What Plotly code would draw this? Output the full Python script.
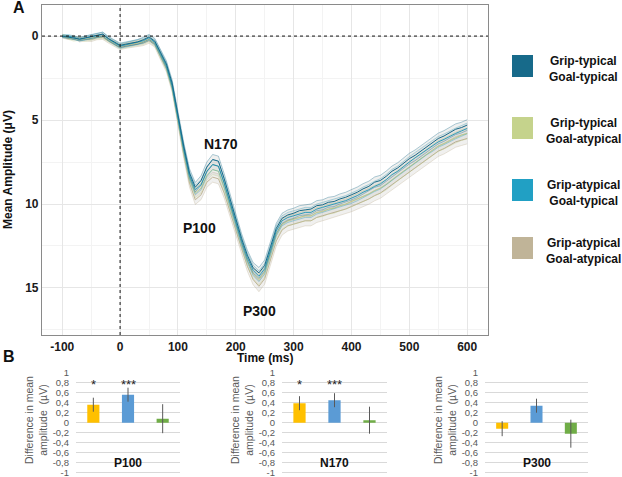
import plotly.graph_objects as go

# ---------------------------------------------------------
# Panel A data: grand-average ERP (µV), sampled every 10 ms
# ---------------------------------------------------------
time_ms = list(range(-100, 601, 10))

gt_goalt = [0.00, 0.05, 0.12, 0.18, 0.10, 0.02, -0.08, -0.12, 0.15, 0.35,
            0.55, 0.48, 0.40, 0.35, 0.22, 0.05, 0.30, 0.95, 1.65, 2.80,
            4.75, 6.55, 8.15, 9.00, 8.60, 7.80, 7.35, 7.45, 8.50, 9.70,
            10.95, 12.05, 13.05, 13.80, 14.10, 13.65, 12.55, 11.45, 10.85, 10.65,
            10.55, 10.40, 10.35, 10.30, 10.10, 10.05, 9.90, 9.85, 9.70, 9.60,
            9.45, 9.30, 9.10, 8.95, 8.70, 8.60, 8.35, 8.05, 7.85, 7.55,
            7.30, 7.10, 6.85, 6.55, 6.35, 6.10, 5.95, 5.75, 5.55, 5.45, 5.30]

gt_goala = [-0.05, 0.10, 0.20, 0.15, 0.20, 0.12, 0.05, 0.02, 0.25, 0.42,
            0.62, 0.55, 0.50, 0.42, 0.35, 0.20, 0.45, 1.15, 1.85, 3.05,
            5.05, 6.85, 8.45, 9.35, 9.05, 8.30, 7.95, 8.05, 9.00, 10.10,
            11.25, 12.35, 13.40, 14.15, 14.50, 14.05, 12.95, 11.80, 11.20, 11.00,
            10.90, 10.80, 10.70, 10.70, 10.50, 10.45, 10.30, 10.25, 10.10, 10.00,
            9.85, 9.70, 9.55, 9.40, 9.20, 9.05, 8.85, 8.55, 8.30, 8.05,
            7.80, 7.55, 7.30, 7.05, 6.80, 6.55, 6.40, 6.20, 6.05, 5.90, 5.80]

ga_goalt = [0.02, 0.00, 0.08, 0.20, 0.12, 0.05, -0.05, -0.10, 0.18, 0.40,
            0.60, 0.52, 0.45, 0.38, 0.28, 0.10, 0.38, 1.05, 1.75, 2.95,
            4.95, 6.70, 8.30, 9.15, 8.85, 8.05, 7.65, 7.75, 8.75, 9.90,
            11.10, 12.20, 13.20, 13.95, 14.30, 13.85, 12.75, 11.60, 11.00, 10.80,
            10.70, 10.60, 10.50, 10.50, 10.30, 10.20, 10.10, 10.00, 9.90, 9.80,
            9.65, 9.50, 9.30, 9.15, 8.95, 8.80, 8.55, 8.25, 8.05, 7.75,
            7.50, 7.25, 7.00, 6.75, 6.55, 6.30, 6.15, 5.95, 5.80, 5.65, 5.50]

ga_goala = [0.03, 0.12, 0.05, 0.25, 0.18, 0.22, 0.10, 0.08, 0.30, 0.50,
            0.68, 0.60, 0.55, 0.48, 0.42, 0.28, 0.50, 1.25, 1.95, 3.15,
            5.20, 7.05, 8.75, 9.75, 9.45, 8.70, 8.40, 8.50, 9.35, 10.40,
            11.55, 12.65, 13.70, 14.50, 14.90, 14.45, 13.35, 12.20, 11.55, 11.30,
            11.20, 11.10, 11.00, 11.00, 10.80, 10.70, 10.60, 10.50, 10.40, 10.30,
            10.15, 10.00, 9.85, 9.70, 9.50, 9.35, 9.10, 8.85, 8.60, 8.35,
            8.10, 7.85, 7.60, 7.35, 7.10, 6.85, 6.70, 6.50, 6.30, 6.20, 6.10]

# standard error used for the ribbons
se = [0.08, 0.09, 0.10, 0.10, 0.11, 0.11, 0.12, 0.12, 0.12, 0.13,
      0.13, 0.13, 0.14, 0.14, 0.15, 0.15, 0.16, 0.17, 0.18, 0.19,
      0.20, 0.22, 0.25, 0.28, 0.29, 0.30, 0.30, 0.30, 0.30, 0.29,
      0.29, 0.29, 0.30, 0.31, 0.32, 0.32, 0.31, 0.30, 0.30, 0.30,
      0.30, 0.30, 0.30, 0.30, 0.30, 0.30, 0.30, 0.30, 0.30, 0.30,
      0.31, 0.31, 0.31, 0.31, 0.31, 0.31, 0.31, 0.31, 0.31, 0.31,
      0.32, 0.32, 0.32, 0.32, 0.32, 0.32, 0.32, 0.32, 0.32, 0.32, 0.32]

conditions = ["Grip-typical<br>Goal-typical", "Grip-typical<br>Goal-atypical",
              "Grip-atypical<br>Goal-typical", "Grip-atypical<br>Goal-atypical"]
cond_colors = ["#176a8a", "#c5d38c", "#21a0c4", "#c0b498"]
cond_rgb = ["23,106,138", "197,211,140", "33,160,196", "192,180,152"]
cond_series = [gt_goalt, gt_goala, ga_goalt, ga_goala]

components = ["N170", "P100", "P300"]
comp_time = [174, 138, 241]
comp_amp = [6.4, 11.4, 16.4]

# ---------------------------------------------------------
# Panel B data: difference in mean amplitude (µV)
# ---------------------------------------------------------
contrasts = ["Grip", "Goal", "Interaction"]
bar_colors = ["#ffc000", "#5b9bd5", "#70ad47"]
windows = ["P100", "N170", "P300"]
diff_p100 = [0.36, 0.56, 0.08]
err_p100 = [0.14, 0.14, 0.29]
diff_n170 = [0.39, 0.45, 0.05]
err_n170 = [0.14, 0.14, 0.27]
diff_p300 = [-0.12, 0.34, -0.22]
err_p300 = [0.15, 0.14, 0.28]
stars_p100 = ["*", "***", ""]
stars_n170 = ["*", "***", ""]
stars_p300 = ["", "", ""]

FONT = "Arial, Liberation Sans, sans-serif"
W, H = 622, 477

fig = go.Figure()

# ERP ribbons + mean lines (draw the bottom condition first)
for i in [3, 1, 2, 0]:
    vals = cond_series[i]
    upper = [v - s for v, s in zip(vals, se)]
    lower = [v + s for v, s in zip(vals, se)]
    edge = dict(color=f"rgba({cond_rgb[i]},0.6)", width=0.6)
    fig.add_trace(go.Scatter(x=time_ms, y=upper, mode="lines", line=edge,
                             showlegend=False, hoverinfo="skip"))
    fig.add_trace(go.Scatter(x=time_ms, y=lower, mode="lines", line=edge,
                             fill="tonexty", fillcolor="rgba(140,140,130,0.13)",
                             showlegend=False, hoverinfo="skip"))
    fig.add_trace(go.Scatter(x=time_ms, y=vals, mode="lines",
                             line=dict(color=cond_colors[i], width=1),
                             name=conditions[i].replace("<br>", " "), showlegend=False))

# bar panels
bar_sets = [(diff_p100, err_p100, stars_p100), (diff_n170, err_n170, stars_n170),
            (diff_p300, err_p300, stars_p300)]
for k, (d, e, st) in enumerate(bar_sets):
    ax = str(k + 2)
    fig.add_trace(go.Bar(x=contrasts, y=d, marker_color=bar_colors, marker_line_width=0,
                         error_y=dict(type="data", array=e, color="#595959",
                                      thickness=1, width=0),
                         xaxis="x" + ax, yaxis="y" + ax, showlegend=False))
    for c, s in zip(contrasts, st):
        if s:
            fig.add_annotation(x=c, y=0.76, xref="x" + ax, yref="y" + ax, text=s,
                               showarrow=False, font=dict(family=FONT, size=13, color="#222"))
    fig.add_annotation(x=contrasts[1], y=-0.8, xref="x" + ax, yref="y" + ax,
                       text="<b>" + windows[k] + "</b>", showarrow=False,
                       font=dict(family=FONT, size=12, color="#111"))

# zero reference lines in panel A
fig.add_vline(x=0, line=dict(color="#111", width=1, dash="3px,3px"))
fig.add_hline(y=0, line=dict(color="#111", width=1, dash="3px,3px"))

# peak labels
for name, t, a in zip(components, comp_time, comp_amp):
    fig.add_annotation(x=t, y=a, text="<b>" + name + "</b>", showarrow=False,
                       font=dict(family=FONT, size=14, color="#111"))

def px_x(p):
    return p / W

def px_y(p):
    return 1 - p / H

def paper_note(x, y, text, size, color="#111", angle=0):
    fig.add_annotation(x=px_x(x), y=px_y(y), xref="paper", yref="paper", text=text,
                       xanchor="center", yanchor="middle", textangle=angle,
                       showarrow=False, align="center",
                       font=dict(family=FONT, size=size, color=color))

tick_font = dict(family=FONT, size=12, color="#1a1a1a")
layout = dict(
    template="none",
    width=W, height=H, margin=dict(l=0, r=0, t=0, b=0, autoexpand=False),
    paper_bgcolor="white", plot_bgcolor="white",
    font=dict(family=FONT), bargap=0.65,
    xaxis=dict(domain=[px_x(42), px_x(488)], range=[-135, 636], automargin=False,
               tickvals=[-100, 0, 100, 200, 300, 400, 500, 600],
               ticktext=["<b>%d</b>" % v for v in [-100, 0, 100, 200, 300, 400, 500, 600]],
               tickfont=tick_font, ticks="", showgrid=True, gridcolor="#e6e6e6",
               minor=dict(dtick=50, tick0=-50, showgrid=True, gridcolor="#f3f3f3"),
               zeroline=False, showline=True, mirror=True, linecolor="#8a8a8a",
               linewidth=1.2, anchor="y"),
    yaxis=dict(domain=[px_y(335), px_y(5)], range=[17.8, -1.85], automargin=False,
               tickvals=[0, 5, 10, 15], ticktext=["<b>0</b>", "<b>5</b>", "<b>10</b>", "<b>15</b>"],
               tickfont=tick_font, ticks="", showgrid=True, gridcolor="#e6e6e6",
               minor=dict(dtick=2.5, tick0=2.5, showgrid=True, gridcolor="#f3f3f3"),
               zeroline=False, showline=True, mirror=True, linecolor="#8a8a8a",
               linewidth=1.2, anchor="x"),
)

bar_ticks = [1, 0.8, 0.6, 0.4, 0.2, 0, -0.2, -0.4, -0.6, -0.8, -1]
bar_ticktext = [("%g" % v).replace(".", ",") for v in bar_ticks]
bar_domains = [(76, 180), (282, 387), (485, 588)]
for k, (a, b) in enumerate(bar_domains):
    ax = str(k + 2)
    layout["xaxis" + ax] = dict(domain=[px_x(a), px_x(b)], anchor="y" + ax, automargin=False,
                                showticklabels=False, ticks="", showgrid=False,
                                zeroline=False, showline=False)
    layout["yaxis" + ax] = dict(domain=[px_y(473.7), px_y(371.7)], anchor="x" + ax,
                                automargin=False, ticklabeloverflow="allow",
                                range=[-1.02, 1.02], tickvals=bar_ticks, ticktext=bar_ticktext,
                                tickfont=dict(family=FONT, size=9.5, color="#595959"),
                                ticks="", showgrid=True, gridcolor="#d9d9d9", gridwidth=1,
                                zeroline=False, showline=False, ticklabelstandoff=6)
    paper_note(a - 40, 420, "Difference in mean<br>amplitude  (µV)", 10.5, "#595959", -90)

fig.update_layout(**layout)

# axis titles and panel letters
paper_note(265, 358, "<b>Time (ms)</b>", 12)
paper_note(8, 170, "<b>Mean Amplitude (μV)</b>", 12, angle=-90)
paper_note(19, 8, "<b>A</b>", 16)
paper_note(9, 356, "<b>B</b>", 16)

# legend drawn as squares + labels
legend_rows = [66, 128, 190, 248]
for name, col, yc in zip(conditions, cond_colors, legend_rows):
    fig.add_shape(type="rect", xref="paper", yref="paper",
                  x0=px_x(512), x1=px_x(533), y0=px_y(yc + 11), y1=px_y(yc - 11),
                  fillcolor=col, line=dict(width=0))
    paper_note(583, yc + 3, "<b>" + name + "</b>", 12)

fig.write_html("out.html", config={"displayModeBar": False},
               post_script="document.body.style.margin='0px';")
